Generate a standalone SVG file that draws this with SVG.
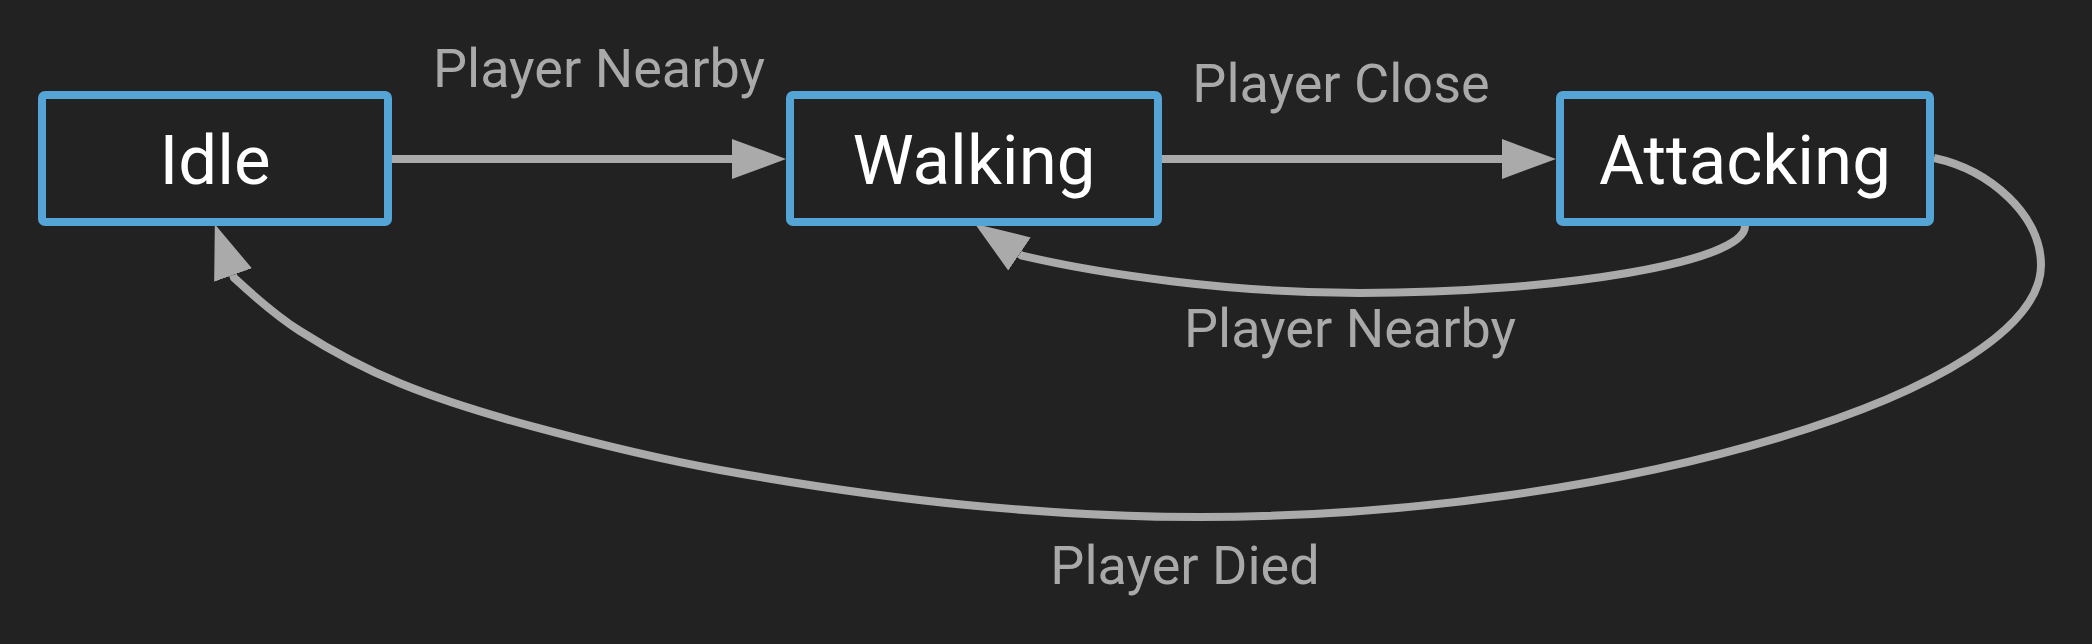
<svg xmlns="http://www.w3.org/2000/svg" width="2092" height="644" viewBox="0 0 2092 644">
<style>
.node rect{fill:#222222;stroke:#55a4d6;stroke-width:8}
.node text{font-family:Roboto,"Liberation Sans",sans-serif;font-size:69px;fill:#ffffff;text-anchor:middle}
.edge{fill:none;stroke:#aaaaaa;stroke-width:8}
.lbl{font-family:Roboto,"Liberation Sans",sans-serif;font-size:54px;fill:#a9a9a9;text-anchor:middle}
</style>
<defs>
<marker id="arr" markerUnits="userSpaceOnUse" markerWidth="56" markerHeight="42" refX="0" refY="20" orient="auto" viewBox="0 0 56 42">
<path d="M0,0 L54,20 L0,40 z" fill="#aaaaaa"/>
</marker>
</defs>
<rect width="2092" height="644" fill="#222222"/>
<g id="connectors">
<path class="edge" d="M392,159 L732,159" marker-end="url(#arr)"/>
<path class="edge" d="M1162,159 L1502,159" marker-end="url(#arr)"/>
<path class="edge" d="M1745,226 C1745,262 1560,293 1360,293 C1230,293 1100,274 1022,255.7 L1019.5,254" marker-end="url(#arr)"/>
<path class="edge" d="M1934,158 C1990,170 2041,215 2041,265 C2041,390 1620,517 1200,517 C1117.8,517 1046.7,512.8 966.7,505 C886.7,497.2 792.2,483.05 720,470 C647.8,456.95 586.6,441.15 533.3,426.7 C480,412.25 438.9,399.25 400,383.3 C361.1,367.35 327.7,348.6 300,331 C272.3,313.4 245.1,287.9 234,277.8 L233,275" marker-end="url(#arr)"/>
<text class="lbl" x="599" y="87">Player Nearby</text>
<text class="lbl" x="1341" y="102">Player Close</text>
<text class="lbl" x="1350" y="347">Player Nearby</text>
<text class="lbl" x="1185" y="584">Player Died</text>
</g>
<g id="idle" class="node">
<rect x="42" y="95" width="346" height="127" rx="3"/>
<text x="215" y="184">Idle</text>
</g>
<g id="walking" class="node">
<rect x="790" y="95" width="368" height="127" rx="3"/>
<text x="974" y="184">Walking</text>
</g>
<g id="attacking" class="node">
<rect x="1560" y="95" width="370" height="127" rx="3"/>
<text x="1745" y="184">Attacking</text>
</g>
</svg>
